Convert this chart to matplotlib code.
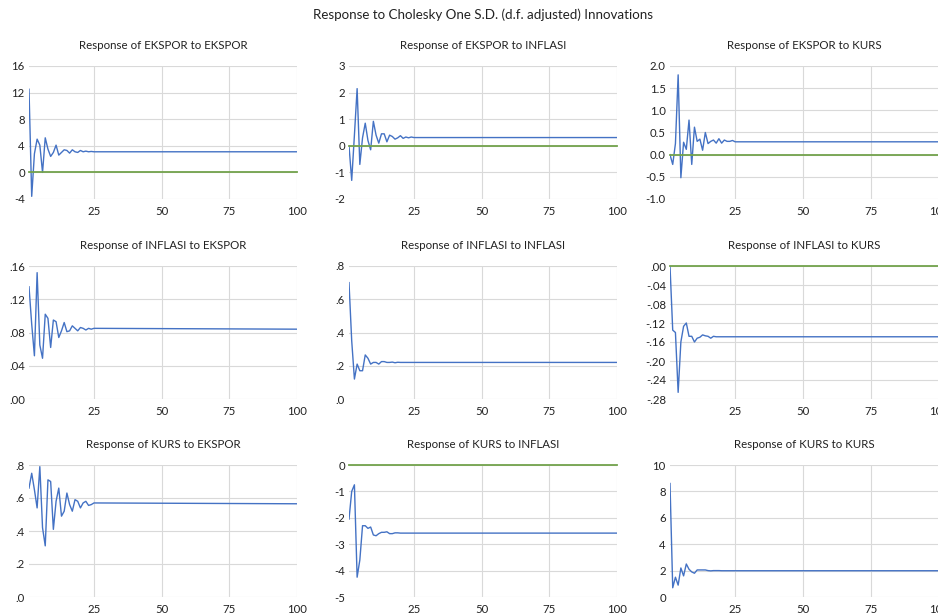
import matplotlib
matplotlib.use("Agg")
import matplotlib.pyplot as plt

plt.rcParams['font.family'] = ['Lato', 'DejaVu Sans']

# impulse responses: periods 1-25, then the flat level at period 100
periods = list(range(1, 26)) + [100]

ekspor_ekspor = [12.5, -3.6, 2.8, 5.0, 4.1, 0.0, 5.2, 3.5, 2.4, 3.0, 4.1, 2.6, 3.0,
                 3.4, 3.3, 2.9, 3.4, 3.1, 3.0, 3.3, 3.1, 3.2, 3.1, 3.15, 3.1, 3.1]
ekspor_inflasi = [0.0, -1.3, 0.4, 2.15, -0.7, 0.3, 0.85, 0.2, -0.15, 0.92, 0.4, 0.1, 0.45,
                  0.45, 0.15, 0.4, 0.35, 0.25, 0.3, 0.38, 0.28, 0.33, 0.3, 0.33, 0.31, 0.31]
ekspor_kurs = [0.0, -0.22, 0.25, 1.8, -0.52, 0.28, 0.12, 0.78, -0.22, 0.62, 0.3, 0.35, 0.1,
               0.5, 0.25, 0.3, 0.33, 0.26, 0.36, 0.26, 0.33, 0.3, 0.3, 0.32, 0.29, 0.29]
inflasi_ekspor = [0.135, 0.09, 0.052, 0.152, 0.065, 0.049, 0.102, 0.097, 0.062, 0.095, 0.093,
                  0.074, 0.082, 0.092, 0.081, 0.082, 0.088, 0.085, 0.082, 0.086, 0.085,
                  0.083, 0.085, 0.084, 0.085, 0.084]
inflasi_inflasi = [0.70, 0.35, 0.12, 0.21, 0.17, 0.17, 0.265, 0.245, 0.21, 0.22, 0.22, 0.21,
                   0.225, 0.225, 0.22, 0.22, 0.222, 0.218, 0.221, 0.22, 0.22, 0.22, 0.22,
                   0.22, 0.22, 0.22]
inflasi_kurs = [0.0, -0.135, -0.14, -0.266, -0.16, -0.127, -0.12, -0.148, -0.148, -0.16,
                -0.152, -0.15, -0.145, -0.147, -0.148, -0.152, -0.148, -0.149, -0.149,
                -0.149, -0.149, -0.149, -0.149, -0.149, -0.149, -0.149]
kurs_ekspor = [0.66, 0.75, 0.65, 0.54, 0.79, 0.42, 0.31, 0.71, 0.70, 0.41, 0.58, 0.66, 0.49,
               0.52, 0.63, 0.56, 0.52, 0.59, 0.58, 0.54, 0.57, 0.58, 0.555, 0.56, 0.57, 0.565]
kurs_inflasi = [-2.05, -1.0, -0.75, -4.25, -3.6, -2.3, -2.3, -2.4, -2.35, -2.65, -2.68, -2.6,
                -2.55, -2.55, -2.53, -2.6, -2.6, -2.57, -2.57, -2.58, -2.58, -2.58, -2.58,
                -2.58, -2.58, -2.58]
kurs_kurs = [8.6, 0.7, 1.5, 0.9, 2.2, 1.6, 2.5, 2.1, 1.9, 1.8, 2.05, 2.05, 2.05, 2.05, 2.0,
             1.98, 2.0, 2.0, 2.0, 1.99, 1.99, 1.99, 1.99, 1.99, 1.99, 1.99]

titles = ["Response of EKSPOR to EKSPOR", "Response of EKSPOR to INFLASI", "Response of EKSPOR to KURS",
          "Response of INFLASI to EKSPOR", "Response of INFLASI to INFLASI", "Response of INFLASI to KURS",
          "Response of KURS to EKSPOR", "Response of KURS to INFLASI", "Response of KURS to KURS"]
responses = [ekspor_ekspor, ekspor_inflasi, ekspor_kurs,
             inflasi_ekspor, inflasi_inflasi, inflasi_kurs,
             kurs_ekspor, kurs_inflasi, kurs_kurs]

y_ticks = [[-4, 0, 4, 8, 12, 16], [-2, -1, 0, 1, 2, 3], [-1.0, -0.5, 0.0, 0.5, 1.0, 1.5, 2.0],
           [0, 0.04, 0.08, 0.12, 0.16], [0, 0.2, 0.4, 0.6, 0.8],
           [-0.28, -0.24, -0.20, -0.16, -0.12, -0.08, -0.04, 0.0],
           [0, 0.2, 0.4, 0.6, 0.8], [-5, -4, -3, -2, -1, 0], [0, 2, 4, 6, 8, 10]]
y_labels = [["-4", "0", "4", "8", "12", "16"], ["-2", "-1", "0", "1", "2", "3"],
            ["-1.0", "-0.5", "0.0", "0.5", "1.0", "1.5", "2.0"],
            [".00", ".04", ".08", ".12", ".16"], [".0", ".2", ".4", ".6", ".8"],
            ["-.28", "-.24", "-.20", "-.16", "-.12", "-.08", "-.04", ".00"],
            [".0", ".2", ".4", ".6", ".8"], ["-5", "-4", "-3", "-2", "-1", "0"],
            ["0", "2", "4", "6", "8", "10"]]
show_zero = [True, True, True, False, False, True, False, True, False]
x_ticks = [25, 50, 75, 100]

W, H = 938, 615
fig = plt.figure(figsize=(W / 100, H / 100), dpi=100)

col_left = [29, 349, 670]
col_width = [268, 268, 269]
row_top = [66, 266, 465]
row_height = [133, 133, 132]

blue = "#4472C4"
green = "#72A24C"

for i in range(9):
    r, c = divmod(i, 3)
    left = col_left[c] / W
    bottom = 1 - (row_top[r] + row_height[r]) / H
    ax = fig.add_axes([left, bottom, col_width[c] / W, row_height[r] / H])
    ax.plot(periods, responses[i], color=blue, linewidth=1.0, zorder=3)
    if show_zero[i]:
        ax.plot([1, 100], [0, 0], color=green, linewidth=1.3, zorder=4, clip_on=False)
    ax.set_xlim(1, 100)
    ax.set_ylim(y_ticks[i][0], y_ticks[i][-1])
    ax.set_xticks(x_ticks)
    ax.set_xticklabels([str(t) for t in x_ticks])
    ax.set_yticks(y_ticks[i])
    ax.set_yticklabels(y_labels[i])
    ax.grid(True, color="#d9d9d9", linewidth=0.8)
    ax.set_axisbelow(True)
    for s in ax.spines.values():
        s.set_visible(False)
    ax.tick_params(length=0, labelsize=8.2, colors="#222222")
    ax.tick_params(axis="y", pad=3)
    ax.tick_params(axis="x", pad=5)
    ax.set_title(titles[i], fontsize=8.3, pad=12, color="#222222")

fig.text(483 / W, 1 - 15 / H, "Response to Cholesky One S.D. (d.f. adjusted) Innovations",
         ha="center", va="center", fontsize=9.6, color="#222222")

fig.savefig("out.png", dpi=100)
